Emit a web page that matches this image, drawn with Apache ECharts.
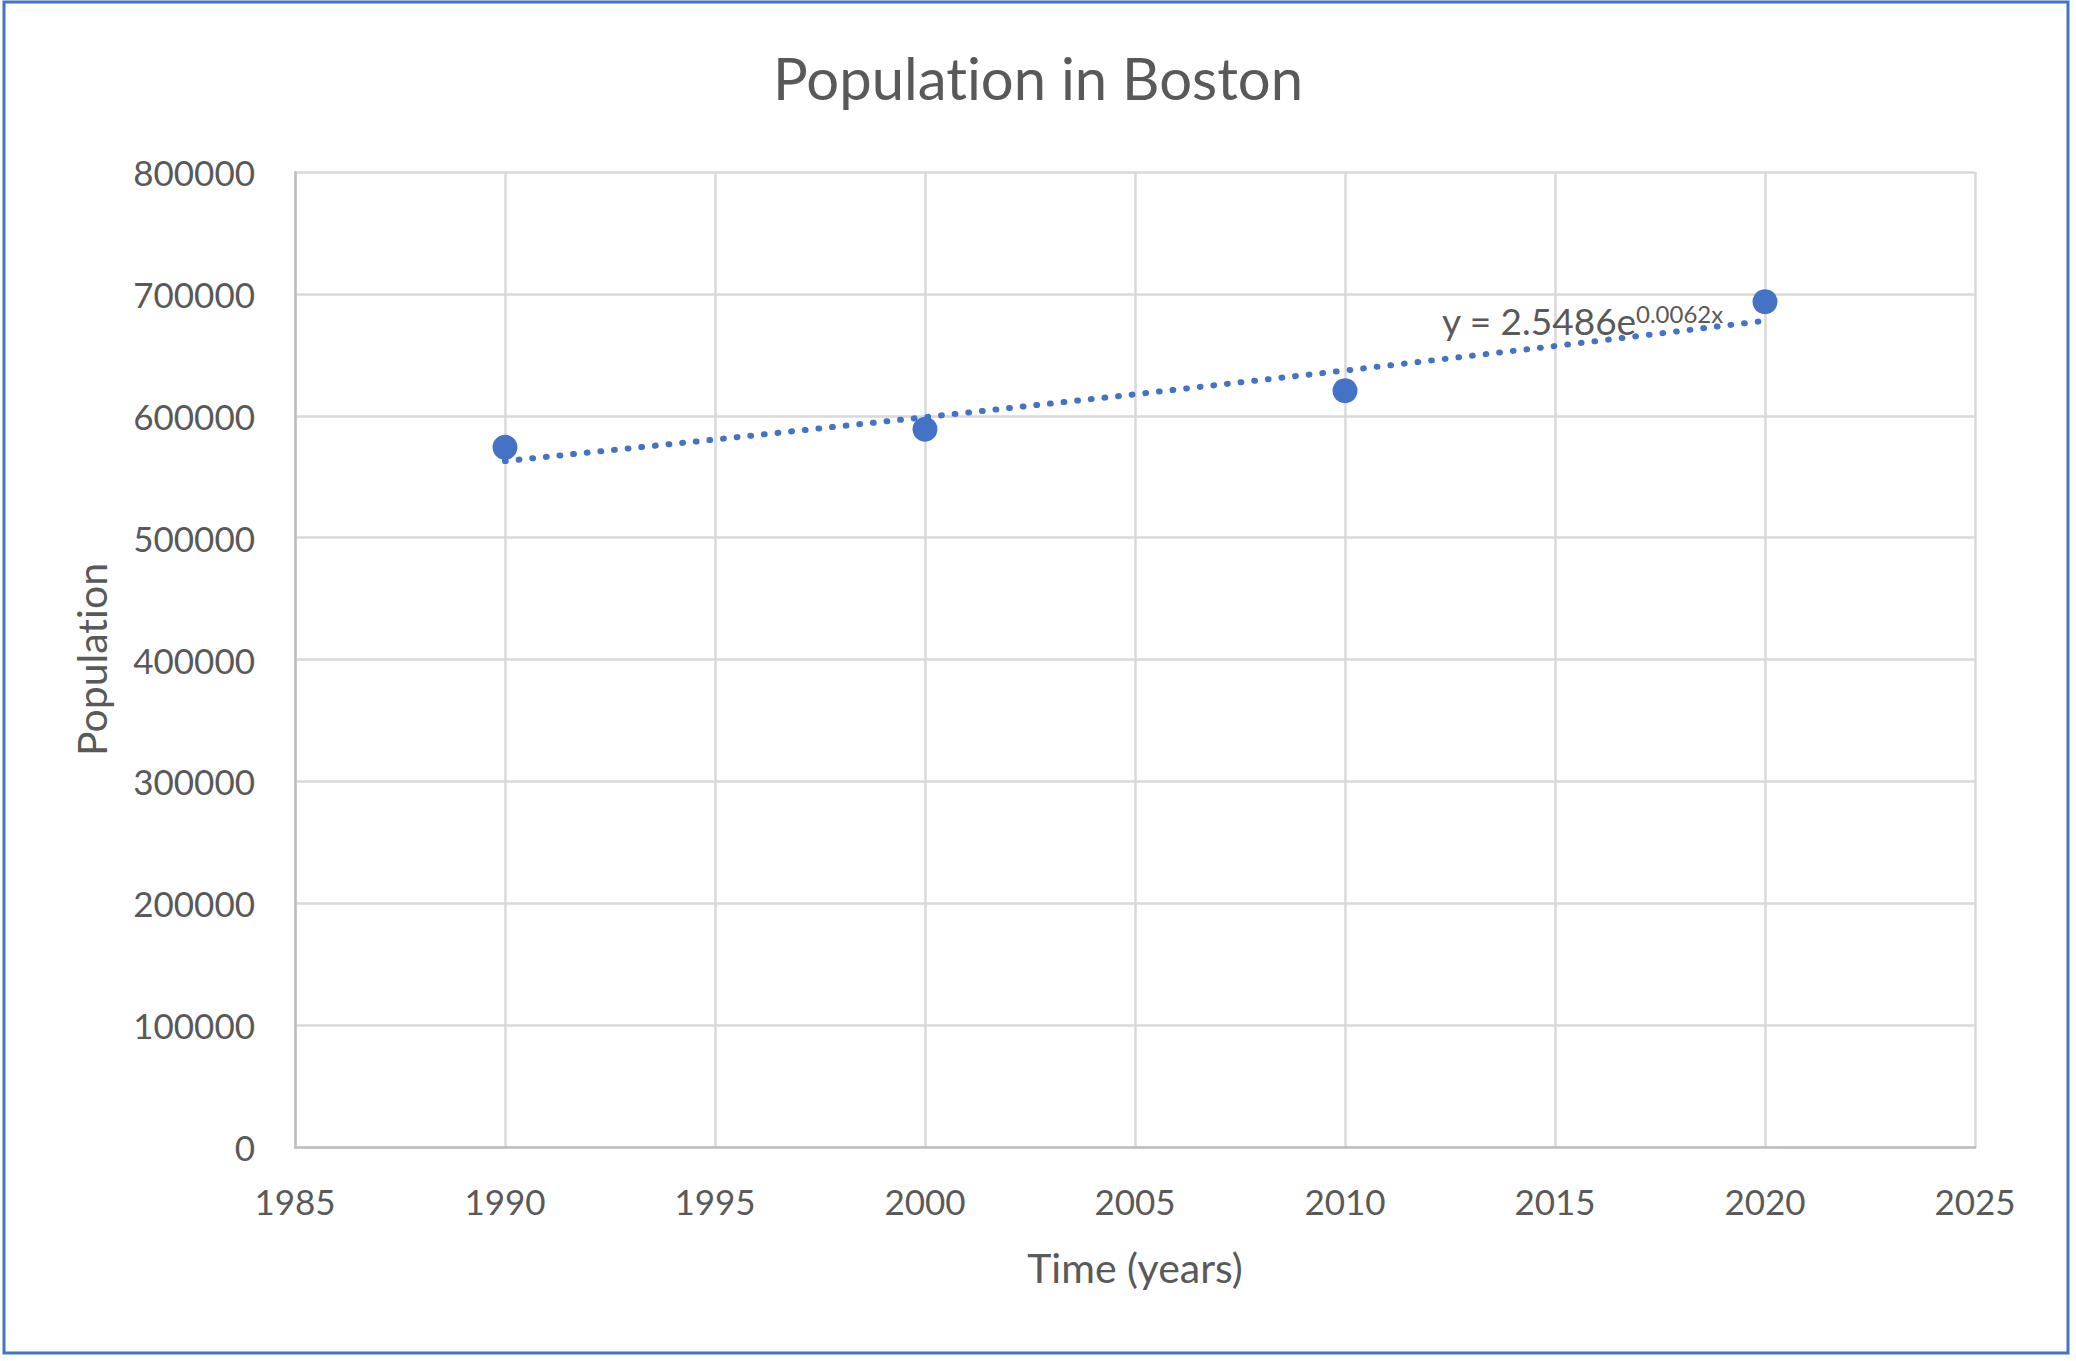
<!DOCTYPE html>
<html>
<head>
<meta charset="utf-8">
<script src="https://cdn.jsdelivr.net/npm/echarts@6/dist/echarts.min.js"></script>
<style>
  html, body { margin: 0; padding: 0; background: #ffffff; }
  #chart { width: 2076px; height: 1361px; }
  #chart text, #chart tspan { font-variant-ligatures: none !important; font-feature-settings: "liga" 0, "clig" 0 !important; }
</style>
</head>
<body>
<div id="chart"></div>
<script>
// ---- data ----
const years = [1990, 2000, 2010, 2020];
const population = [574100, 588900, 620600, 693600];

// exponential trendline values
const trendYears = [1990, 1995, 2000, 2005, 2010, 2015, 2020];
const trendValues = [562800, 580500, 598800, 617600, 637100, 657200, 677900];

const titleText = 'Population in Boston';
const xAxisName = 'Time (years)';
const yAxisName = 'Population';
const equationMain = 'y = 2.5486e';
const equationExp = '0.0062x';

const xMin = 1985, xMax = 2025, xStep = 5;
const yMin = 0, yMax = 800000, yStep = 100000;

// ---- styles ----
const FONT = 'Lato, "Open Sans", sans-serif';
const TEXT = '#595959';
const BLUE = '#4472C4';
const GRID = '#D9D9D9';

const chart = echarts.init(document.getElementById('chart'), null, { renderer: 'svg' });

const scatterData = years.map((y, i) => [y, population[i]]);
const trendData = trendYears.map((y, i) => [y, trendValues[i]]);

chart.setOption({
  backgroundColor: '#ffffff',
  animation: false,
  textStyle: { fontFamily: FONT, color: TEXT },
  title: {
    text: titleText,
    left: 'center',
    top: 43,
    textStyle: { fontFamily: FONT, fontSize: 58, fontWeight: 'normal', color: TEXT }
  },
  grid: { left: 295, right: 101, top: 172, bottom: 214, containLabel: false },
  xAxis: {
    type: 'value',
    min: xMin, max: xMax, interval: xStep,
    name: xAxisName,
    nameLocation: 'middle',
    nameGap: 100,
    nameTextStyle: { fontFamily: FONT, fontSize: 41, color: TEXT },
    axisLine: { show: true, lineStyle: { color: '#BFBFBF', width: 2.5 } },
    axisTick: { show: false },
    axisLabel: { fontFamily: FONT, fontSize: 35, color: TEXT, margin: 36, formatter: v => String(v) },
    splitLine: { show: true, lineStyle: { color: GRID, width: 2.5 } }
  },
  yAxis: {
    type: 'value',
    min: yMin, max: yMax, interval: yStep,
    name: yAxisName,
    nameLocation: 'middle',
    nameRotate: 90,
    nameGap: 183,
    nameTextStyle: { fontFamily: FONT, fontSize: 41, color: TEXT },
    axisLine: { show: true, onZero: false, lineStyle: { color: '#BFBFBF', width: 2.5 } },
    axisTick: { show: false },
    axisLabel: { fontFamily: FONT, fontSize: 35, color: TEXT, margin: 40, formatter: v => String(v) },
    splitLine: { show: true, lineStyle: { color: GRID, width: 2.5 } }
  },
  series: [
    {
      name: 'Population',
      type: 'scatter',
      data: scatterData,
      symbol: 'circle',
      symbolSize: 25,
      itemStyle: { color: BLUE, opacity: 1 },
      z: 2
    },
    {
      name: 'Trendline',
      type: 'line',
      data: trendData,
      showSymbol: false,
      smooth: false,
      lineStyle: { color: BLUE, width: 6, type: [0.8, 12.9], cap: 'round' },
      z: 3
    }
  ],
  graphic: [
    {
      type: 'rect',
      shape: { x: 4, y: 2, width: 2064, height: 1351 },
      style: { fill: 'none', stroke: BLUE, lineWidth: 3 },
      silent: true,
      z: 100
    },
    {
      type: 'text',
      x: 1442, y: 320,
      style: {
        text: equationMain,
        font: '37px ' + FONT,
        fill: TEXT,
        textAlign: 'left',
        textVerticalAlign: 'middle'
      },
      z: 50
    },
    {
      type: 'text',
      x: 1636, y: 313,
      style: {
        text: equationExp,
        font: '24px ' + FONT,
        fill: TEXT,
        textAlign: 'left',
        textVerticalAlign: 'middle'
      },
      z: 50
    }
  ]
});
</script>
</body>
</html>
